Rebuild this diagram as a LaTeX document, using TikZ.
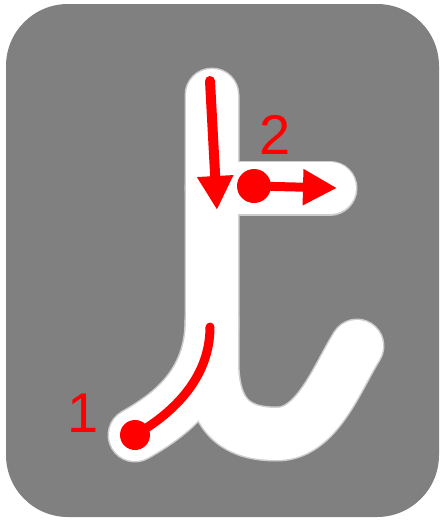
\documentclass[tikz,border=0pt]{standalone}
\usepackage{amsmath,amssymb}
\usepackage{fontspec}
\setmainfont{Liberation Sans}
\usepackage{tikz,xcolor}
\usetikzlibrary{arrows.meta,calc}
\definecolor{boardgray}{RGB}{128,128,128}
\definecolor{halogray}{RGB}{205,205,205}
\tikzset{
 letterhalo/.style={halogray,line width=55pt,line cap=round,line join=round},
 letterbody/.style={white,line width=52pt,line cap=round,line join=round},
 guide/.style={red,line width=9pt,line cap=round},
 guidetip/.style={-{Triangle[length=34pt,width=34pt]}},
 digit/.style={red,font=\fontsize{56}{60}\selectfont,inner sep=0pt}
}

\begin{document}
\begin{tikzpicture}[x=1pt,y=-1pt]
\useasboundingbox (0,0) rectangle (440,520);
\fill[boardgray,rounded corners=62pt] (6,4) rectangle (439,517);

%letter t
\foreach \st in {letterhalo,letterbody}{
\draw[\st] (212,95) -- (212,362) .. controls (212,422) and (242,434) .. (277,434) .. controls (317,434) and (337,378) .. (357,346);
\draw[\st] (135,435) .. controls (170,415) and (212,385) .. (212,320);
\draw[\st] (212,188) -- (330,188);
}

%stroke 1
\coordinate (s1) at (135,435);
\coordinate (e1) at (210,327);
\draw[guide] (s1) .. controls (170,415) and (210,380) .. (e1);
\fill[red] (s1) circle (15pt);
\node[digit] (n1) at (83,413) {1};

%stem arrow
\coordinate (s2) at (210,81);
\coordinate (e2) at (217,210);
\draw[guide,line width=10pt,guidetip] (s2) -- (e2);

%stroke 2
\coordinate (s3) at (254,186);
\coordinate (e3) at (337,188);
\draw[guide,guidetip] (s3) -- (e3);
\fill[red] (s3) circle (17pt);
\node[digit] (n2) at (275,135) {2};

\end{tikzpicture}
\end{document}
